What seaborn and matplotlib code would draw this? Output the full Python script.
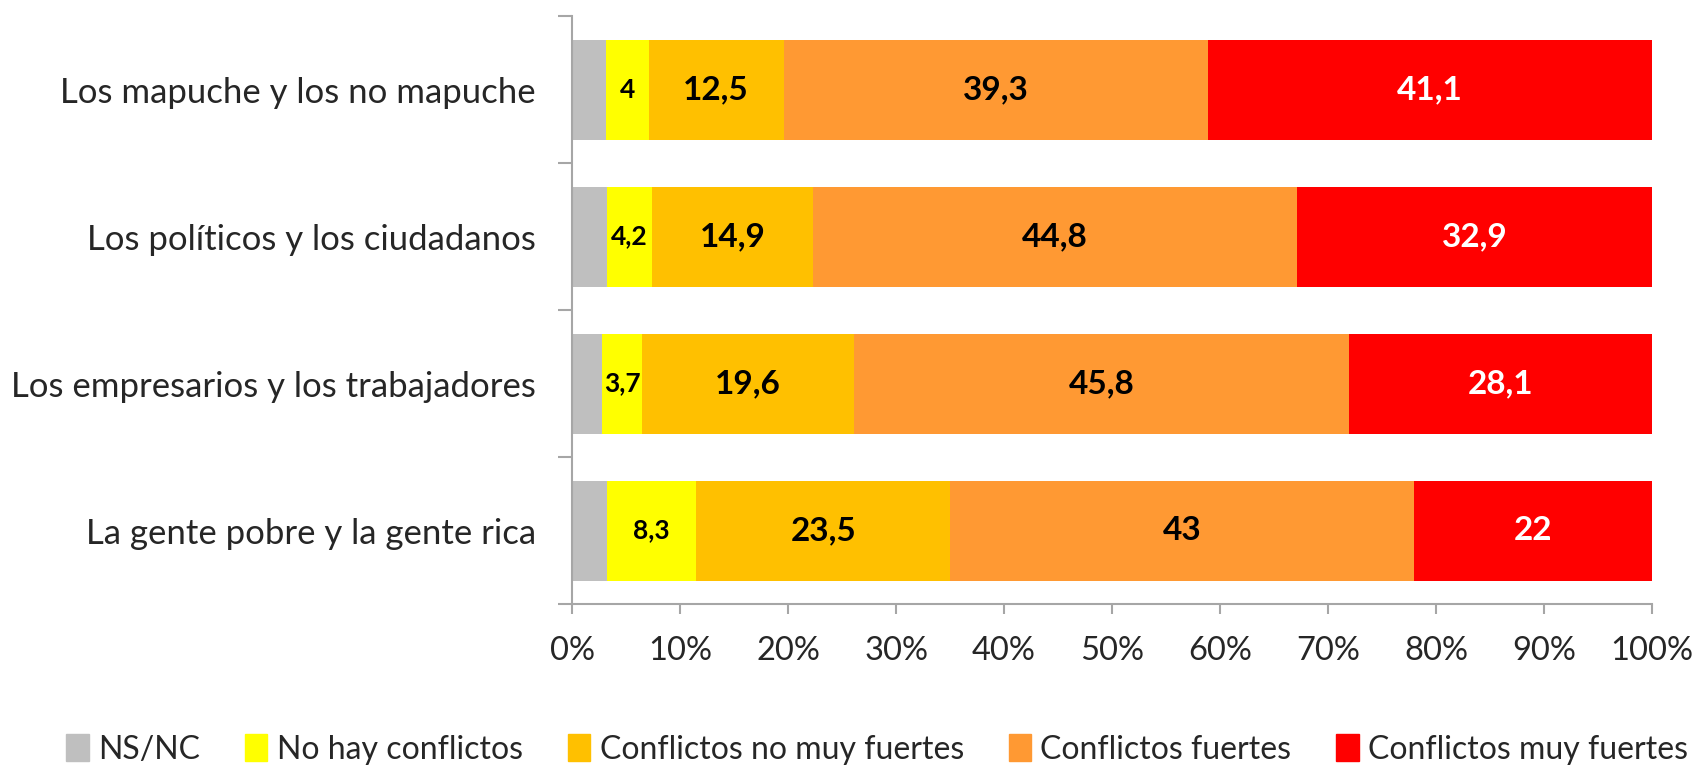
import matplotlib
matplotlib.use("Agg")
import matplotlib.pyplot as plt
import matplotlib.patches as mpatches
from matplotlib.ticker import FixedLocator
import numpy as np
import pandas as pd
import seaborn as sns

categories = ["Los mapuche y los no mapuche",
              "Los políticos y los ciudadanos",
              "Los empresarios y los trabajadores",
              "La gente pobre y la gente rica"]
series_names = ["NS/NC", "No hay conflictos", "Conflictos no muy fuertes",
                "Conflictos fuertes", "Conflictos muy fuertes"]
ns_nc = [3.1, 3.2, 2.8, 3.2]
no_hay = [4, 4.2, 3.7, 8.3]
no_muy_fuertes = [12.5, 14.9, 19.6, 23.5]
fuertes = [39.3, 44.8, 45.8, 43]
muy_fuertes = [41.1, 32.9, 28.1, 22]
colors = ["#BFBFBF", "#FFFF00", "#FFC000", "#FF9933", "#FF0000"]
label_colors = [None, "black", "black", "black", "white"]
label_sizes = [None, 19, 24, 24, 24]
x_ticks = [0, 10, 20, 30, 40, 50, 60, 70, 80, 90, 100]

sns.set_style("white")
plt.rcParams['font.family'] = ['Lato', 'DejaVu Sans']

values = np.array([ns_nc, no_hay, no_muy_fuertes, fuertes, muy_fuertes])
cum = values.cumsum(axis=0)

df = pd.DataFrame({"Categoria": categories})
for i, name in enumerate(series_names):
    df[name] = cum[i]

fig = plt.figure(figsize=(17, 7.68), dpi=100)
ax = fig.add_axes([0.3365, 0.2135, 0.6353, 0.7655])

# stacked bars: draw cumulative totals from the widest down
for i in range(len(series_names) - 1, -1, -1):
    sns.barplot(data=df, x=series_names[i], y="Categoria", color=colors[i],
                orient="h", width=0.68, saturation=1, ax=ax, linewidth=0)

# labels in the middle of each segment (NS/NC has none)
for i in range(1, len(series_names)):
    for j in range(len(categories)):
        v = values[i, j]
        mid = cum[i, j] - v / 2
        txt = ("%g" % v).replace(".", ",")
        ax.text(mid, j, txt, ha="center", va="center", fontsize=label_sizes[i],
                fontweight="bold", color=label_colors[i])

ax.set_xlim(0, 100)
ax.set_ylim(len(categories) - 0.5, -0.5)
ax.set_xticks(x_ticks)
ax.set_xticklabels(["%d%%" % t for t in x_ticks])
ax.set_xlabel("")
ax.set_ylabel("")
ax.yaxis.set_minor_locator(FixedLocator(np.arange(-0.5, len(categories), 1)))

for s in ["top", "right"]:
    ax.spines[s].set_visible(False)
for s in ["left", "bottom"]:
    ax.spines[s].set_color("#A6A6A6")
    ax.spines[s].set_linewidth(1.5)

ax.tick_params(axis="x", which="major", direction="out", length=7, width=1.5,
               color="#A6A6A6", labelsize=23.5, pad=16, bottom=True)
ax.tick_params(axis="y", which="major", length=0, labelsize=25, pad=26)
ax.tick_params(axis="y", which="minor", direction="out", length=10, width=1.5,
               color="#A6A6A6", left=True)

handles = [mpatches.Patch(color=c, label=n) for c, n in zip(colors, series_names)]
fig.legend(handles=handles, loc="center", bbox_to_anchor=(0.516, 0.024), ncol=5,
           frameon=False, fontsize=23, handlelength=0.7, handleheight=0.9,
           handletextpad=0.3, columnspacing=1.4)

fig.savefig("out.png", dpi=100)
